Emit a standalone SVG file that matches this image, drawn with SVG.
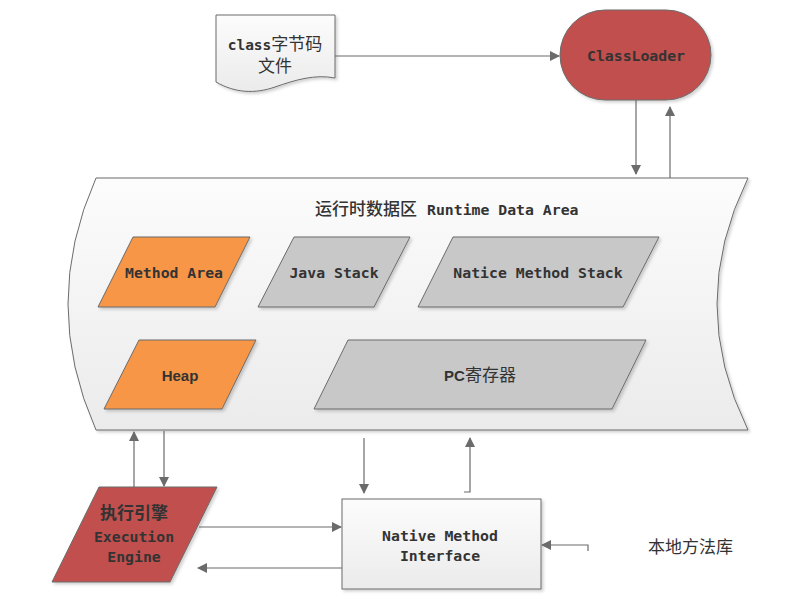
<svg xmlns="http://www.w3.org/2000/svg" width="791" height="604" viewBox="0 0 791 604">
<style>
.s{stroke:#6b6b6b;stroke-width:1}
.red{fill:#C0504D}
.org{fill:#F79646}
.gry{fill:#C8C8C8}
.t{font-family:"DejaVu Sans Mono","Liberation Mono","Noto Sans CJK SC",monospace;font-weight:bold;font-size:14.8px;fill:#333;text-anchor:middle}
.c{font-family:"Noto Sans CJK SC","Microsoft YaHei",sans-serif;font-size:17px;fill:#333}
.cb{font-family:"Noto Sans CJK SC",sans-serif;font-size:17px;font-weight:bold;fill:#333}
.sans{font-family:"Liberation Sans",Arial,sans-serif;font-weight:bold;font-size:15px;fill:#333}
.ln{fill:none;stroke:#6b6b6b;stroke-width:1.2}
</style>
<defs>
<linearGradient id="g1" x1="0" y1="0" x2="0" y2="1"><stop offset="0" stop-color="#fcfcfc"/><stop offset="1" stop-color="#ebebeb"/></linearGradient>
<filter id="sh" x="-10%" y="-10%" width="125%" height="130%"><feDropShadow dx="2" dy="2" stdDeviation="1.5" flood-color="#000" flood-opacity="0.18"/></filter>
<marker id="ah" viewBox="0 0 10 10" refX="9" refY="5" markerWidth="10" markerHeight="10" markerUnits="userSpaceOnUse" orient="auto"><path d="M0,0 L10,5 L0,10 Z" fill="#6b6b6b"/></marker>
</defs>
<rect width="791" height="604" fill="#fff"/>

<g id="runtime-data-area">
<path class="s" filter="url(#sh)" fill="url(#g1)" d="M96,178 L748,178 Q686,304 748,430 L96,430 Q40,304 96,178 Z"/>
<text x="315" y="215" class="c" font-weight="500">运行时数据区<tspan class="t" dx="10" style="text-anchor:start">Runtime Data Area</tspan></text>
</g>

<g id="class-file">
<path class="s" filter="url(#sh)" fill="url(#g1)" d="M216,15 L335,15 L335,78 C315,74 295,80 275,87 C255,94 235,93 216,82 Z"/>
<text x="275" y="50" text-anchor="middle"><tspan class="t" style="font-size:14.5px">class</tspan><tspan class="c" font-size="18">字节码</tspan></text>
<text x="275" y="72" class="c" font-size="18" text-anchor="middle">文件</text>
</g>

<g id="classloader">
<rect class="s red" filter="url(#sh)" x="560" y="10" width="151" height="90" rx="45" ry="45"/>
<text x="636" y="61" class="t">ClassLoader</text>
</g>

<g id="method-area">
<polygon class="s org" filter="url(#sh)" points="133,237 250,237 215,307 98,307"/>
<text x="174" y="278" class="t">Method Area</text>
</g>
<g id="java-stack">
<polygon class="s gry" filter="url(#sh)" points="294,237 410,237 374,307 258,307"/>
<text x="334" y="278" class="t">Java Stack</text>
</g>
<g id="native-method-stack">
<polygon class="s gry" filter="url(#sh)" points="453,237 659,237 623,307 418,307"/>
<text x="538" y="278" class="t">Natice Method Stack</text>
</g>
<g id="heap">
<polygon class="s org" filter="url(#sh)" points="139,340 256,340 222,409 104,409"/>
<text x="180" y="381" class="sans" text-anchor="middle">Heap</text>
</g>
<g id="pc-register">
<polygon class="s gry" filter="url(#sh)" points="348,340 646,340 612,409 314,409"/>
<text x="480" y="381" text-anchor="middle"><tspan class="sans">PC</tspan><tspan class="c">寄存器</tspan></text>
</g>

<g id="execution-engine">
<polygon class="s red" filter="url(#sh)" points="99,487 217,487 170,582 52,582"/>
<text x="134" y="519" class="cb" text-anchor="middle">执行引擎</text>
<text x="134" y="542" class="t">Execution</text>
<text x="134" y="562" class="t">Engine</text>
</g>

<g id="native-method-interface">
<rect class="s" filter="url(#sh)" fill="url(#g1)" x="342" y="499" width="199" height="90"/>
<text x="440" y="541" class="t">Native Method</text>
<text x="440" y="561" class="t">Interface</text>
</g>

<g id="native-library">
<text x="648" y="553" class="c">本地方法库</text>
</g>

<g id="connectors">
<path class="ln" marker-end="url(#ah)" d="M335,56 H559"/>
<path class="ln" marker-end="url(#ah)" d="M636,100 V174"/>
<path class="ln" marker-end="url(#ah)" d="M670,178 V107"/>
<path class="ln" marker-end="url(#ah)" d="M134,487 V432"/>
<path class="ln" marker-end="url(#ah)" d="M164,431 V486"/>
<path class="ln" marker-end="url(#ah)" d="M199,527 H341"/>
<path class="ln" marker-end="url(#ah)" d="M342,568 H198"/>
<path class="ln" marker-end="url(#ah)" d="M364,438 V493"/>
<path class="ln" marker-end="url(#ah)" d="M464,492 H470 V438"/>
<path class="ln" marker-end="url(#ah)" d="M588,551 V545 H542"/>
</g>
</svg>
